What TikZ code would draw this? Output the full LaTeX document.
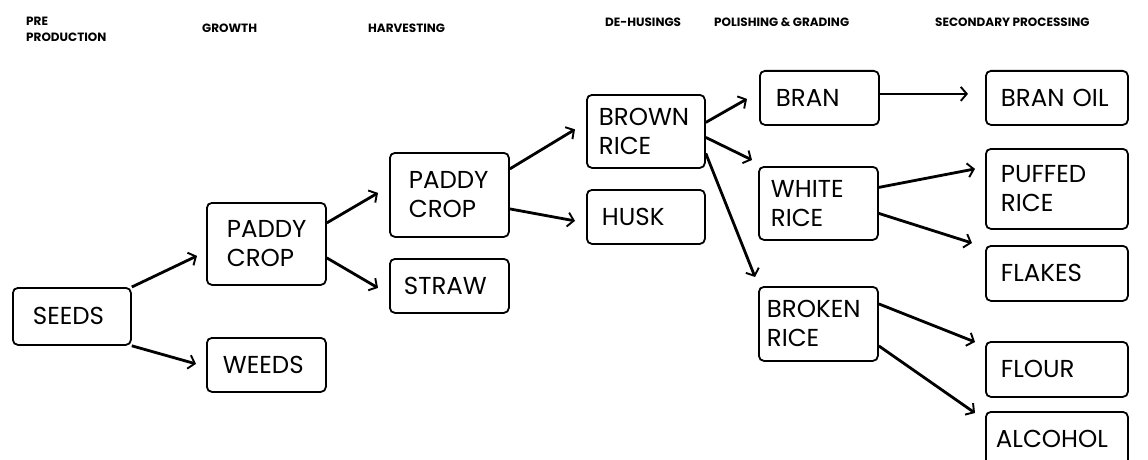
\documentclass[tikz,border=0pt]{standalone}
\usepackage{fontspec}
\setmainfont{Poppins}
\usetikzlibrary{arrows.meta,calc}
\tikzset{
  box/.style n args={4}{draw, line width=1.8pt, rounded corners=5pt, anchor=north west,
    minimum width=#1, minimum height=#2, inner xsep=#3, inner ysep=0pt, text width=#4,
    align=left, font=\fontsize{24.5}{29}\selectfont},
  hdr/.style={anchor=base west, inner sep=0pt, font=\fontsize{12}{16}\selectfont\bfseries, align=left},
  arr/.style={line width=2.8pt, -{Straight Barb[length=6pt,width=14pt,line width=1.9pt]}},
}
\begin{document}
\begin{tikzpicture}[x=1pt,y=-1pt]
\useasboundingbox (0,0) rectangle (1148,460);
% headers
\node[hdr, anchor=north west] (h1) at (26,17) {PRE\\PRODUCTION};
\node[hdr] (h2) at (202,33) {GROWTH};
\node[hdr] (h3) at (368,33) {HARVESTING};
\node[hdr] (h4) at (605,27) {DE-HUSINGS};
\node[hdr] (h5) at (714,27) {POLISHING \& GRADING};
\node[hdr] (h6) at (935,27) {SECONDARY PROCESSING};
% boxes
\node[box={118pt}{57pt}{20pt}{78pt}] (seeds) at (12,287) {SEEDS};
\node[box={119pt}{82pt}{20pt}{79pt}] (paddyg) at (206,202) {PADDY\\CROP};
\node[box={119pt}{54pt}{16pt}{87pt}] (weeds) at (206,337) {WEEDS};
\node[box={119pt}{84pt}{19pt}{81pt}] (paddyh) at (389,152) {PADDY\\CROP};
\node[box={119pt}{54pt}{14pt}{91pt}] (straw) at (389,258) {STRAW};
\node[box={118pt}{73pt}{12pt}{94pt}] (brown) at (586,94) {BROWN\\RICE};
\node[box={118pt}{54pt}{15pt}{88pt}] (husk) at (586,189) {HUSK};
\node[box={119pt}{54pt}{16pt}{87pt}] (bran) at (759,70) {BRAN};
\node[box={119pt}{73pt}{12pt}{95pt}] (white) at (758,166) {WHITE\\RICE};
\node[box={119pt}{74pt}{8pt}{103pt}] (broken) at (758,286) {BROKEN\\RICE};
\node[box={142pt}{54pt}{15pt}{112pt}] (branoil) at (985,70) {BRAN OIL};
\node[box={142pt}{80pt}{15pt}{112pt}] (puffed) at (985,148) {PUFFED\\RICE};
\node[box={142pt}{55pt}{15pt}{112pt}] (flakes) at (985,245) {FLAKES};
\node[box={142pt}{55pt}{15pt}{112pt}] (flour) at (985,341) {FLOUR};
\node[box={142pt}{55pt}{10pt}{122pt}] (alcohol) at (985,411) {ALCOHOL};
% connectors
\draw[arr] (seeds.north east) -- ($(paddyg.west)+(-9,12)$);
\draw[arr] (seeds.south east) -- ($(weeds.west)+(-10,-1)$);
\draw[arr] ($(paddyg.east)+(0,-21)$) -- ($(paddyh.west)+(-11,-2)$);
\draw[arr] ($(paddyg.east)+(0,14)$) -- ($(straw.west)+(-11,2)$);
\draw[arr] ($(paddyh.east)+(0,-26)$) -- ($(brown.west)+(-11,-2)$);
\draw[arr] ($(paddyh.east)+(0,14)$) -- ($(husk.west)+(-11,4)$);
\draw[arr] ($(brown.east)+(0,-9)$) -- ($(bran.west)+(-12,1)$);
\draw[arr] ($(brown.east)+(0,6)$) -- ($(white.north west)+(-6,-6)$);
\draw[arr] ($(brown.east)+(0,22)$) -- ($(broken.north west)+(-3,-9)$);
\draw[arr] ($(bran.east)+(0,-4)$) -- ($(branoil.west)+(-17,-4)$);
\draw[arr] ($(white.east)+(0,-16)$) -- ($(puffed.west)+(-10,-20)$);
\draw[arr] ($(white.east)+(0,10)$) -- ($(flakes.north west)+(-13,-2)$);
\draw[arr] ($(broken.east)+(0,-20)$) -- ($(flour.north west)+(-10,1)$);
\draw[arr] ($(broken.east)+(0,22)$) -- ($(alcohol.north west)+(-10,2)$);
\end{tikzpicture}
\end{document}
